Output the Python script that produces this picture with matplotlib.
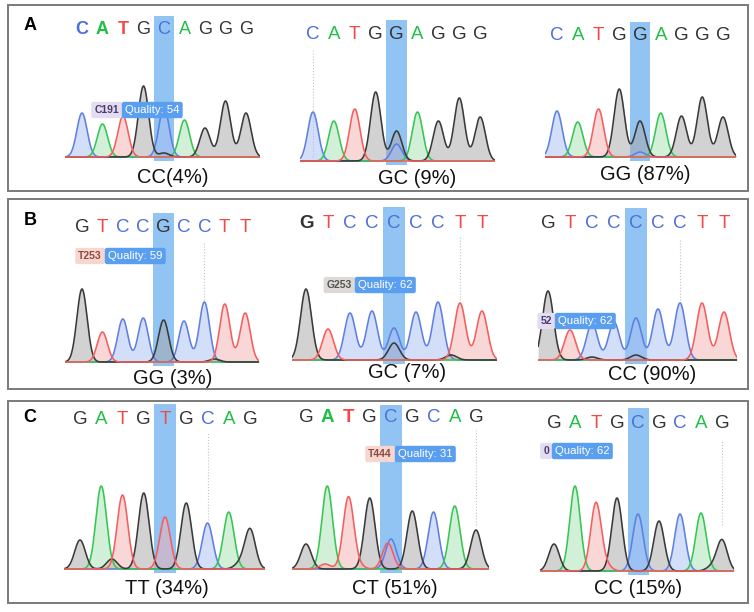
import numpy as np
import matplotlib
matplotlib.use("Agg")
import matplotlib.pyplot as plt
from matplotlib.patches import Rectangle

# ---------------- data ----------------
panel_letters = ["A", "B", "C"]

# called bases per chromatogram (row-major: A1, A2, A3, B1, ...)
bases = [
    "CATGCAGGG", "CATGGAGGG", "CATGGAGGG",
    "GTCCGCCTT", "GTCCCCCTT", "GTCCCCCTT",
    "GATGTGCAG", "GATGCGCAG", "GATGCGCAG",
]
# primary peak heights (signal units), one per base
peak_heights = [
    [44, 33, 41, 71, 50, 37, 29, 56, 44],
    [49, 40, 52, 69, 30, 49, 40, 63, 44],
    [46, 35, 48, 68, 36, 44, 41, 60, 40],
    [73, 30, 43, 44, 42, 41, 60, 58, 49],
    [71, 31, 47, 49, 32, 48, 58, 57, 49],
    [69, 30, 37, 38, 42, 51, 57, 57, 48],
    [29, 83, 74, 76, 52, 66, 46, 57, 40],
    [25, 83, 72, 71, 30, 58, 57, 63, 39],
    [27, 85, 68, 73, 57, 50, 57, 58, 31],
]
# secondary (minor) peaks: (position, base, height)
secondary_peaks = [
    [(4, "G", 4)],
    [(4, "C", 17)],
    [(4, "C", 5)],
    [(6.5, "G", 3)],
    [(4, "G", 17), (6.6, "G", 5)],
    [(4, "G", 5), (2, "G", 3)],
    [(1.5, "G", 10), (7.5, "G", 5)],
    [(3.85, "T", 26), (0.9, "T", 5), (2.5, "T", 3)],
    [(2.5, "T", 5), (7.5, "G", 4)],
]
highlight_index = [4] * 9
genotype_labels = ["CC(4%)", "GC (9%)", "GG (87%)",
                   "GG (3%)", "GC (7%)", "CC (90%)",
                   "TT (34%)", "CT (51%)", "CC (15%)"]
# quality tags: (left text, left style, quality text) or None
quality_tags = [
    ("C191", "lav", "Quality: 54"), None, None,
    ("T253", "pink", "Quality: 59"), ("G253", "grey", "Quality: 62"), ("52", "lav", "Quality: 62"),
    None, ("T444", "pink", "Quality: 31"), ("0", "lav", "Quality: 62"),
]
bold_letters = [[0, 1, 2], [], [], [], [0], [], [], [1, 2], []]

# ---------------- layout (pixels) ----------------
W, H = 754, 612
# x0, spacing, baseline, highlight-top, trace start, trace end, letter y, letter size
chrom_layout = [
    (82, 20.5, 157, 16, -0.85, 8.7, 30, 13),
    (313, 20.9, 161, 20, -0.6, 8.7, 35, 13.5),
    (557, 20.75, 157, 22, -0.6, 8.65, 36, 13.5),
    (82, 20.4, 362, 213, -0.85, 8.7, 227, 13.5),
    (306, 22.0, 360, 207, -0.64, 8.68, 223, 13.5),
    (548, 22.0, 360, 208, -0.45, 8.6, 224, 13.5),
    (80, 21.25, 569, 404, -0.75, 8.7, 419, 13.5),
    (306, 21.25, 569, 405, -0.66, 8.6, 418, 13.5),
    (554, 21.0, 571, 408, -0.67, 8.57, 423, 13.5),
]
label_pos = [(173, 177), (417, 178), (645, 175),
             (173, 378), (407, 373), (652, 375),
             (167, 588), (395, 589), (638, 588)]
tag_pos = [(122, 110), None, None,
           (105, 256), (355, 285), (555, 321),
           None, (395, 454), (552, 451)]
guide_lines = [None, (0, 50, 157), None,
               (6, 242, 300), (7, 235, 300), (6, 240, 303),
               (6, 433, 520), (8, 430, 525), (8, 440, 525)]
panel_boxes = [(8, 5, 748, 191), (8, 199, 748, 389), (8, 401, 748, 603)]
panel_letter_pos = [(30, 25), (30, 220), (30, 417)]

# ---------------- styles ----------------
line_col = {"C": "#5f7fe2", "A": "#35c653", "T": "#f45e5e", "G": "#3a3a3a"}
fill_col = {"C": "#a9bff2", "A": "#a6e3b2", "T": "#f7b0b0", "G": "#a6a6a6"}
text_col = {"C": "#4d6fdc", "A": "#1fc046", "T": "#f34848", "G": "#333333"}
tag_style = {"lav": ("#e3dcf2", "#4a3d6b"), "pink": ("#f8d6d0", "#8a4a40"),
             "grey": ("#ddd9d5", "#555555")}
hl_color = "#7fbaf2"
FONT = ["Liberation Sans", "DejaVu Sans"]
plt.rcParams["font.family"] = FONT

fig = plt.figure(figsize=(W / 100, H / 100), dpi=100)
fig.patch.set_facecolor("white")


def fx(x):
    return x / W


def fy(y):
    return 1 - y / H


# panel boxes and letters
for (x1, y1, x2, y2), letter, (lx, ly) in zip(panel_boxes, panel_letters, panel_letter_pos):
    fig.add_artist(Rectangle((fx(x1), fy(y2)), fx(x2 - x1), (y2 - y1) / H,
                             transform=fig.transFigure, fill=False,
                             edgecolor="#7a7a7a", linewidth=1.4))
    fig.text(fx(lx), fy(ly), letter, ha="center", va="center",
             fontsize=13, fontweight="bold", color="black")

sigma = 0.25
for k in range(9):
    x0, sp, base_y, top_y, xs, xe, let_y, let_size = chrom_layout[k]
    pad = 4
    left = x0 + xs * sp
    right = x0 + xe * sp
    ax = fig.add_axes([fx(left), fy(base_y + pad), fx(right - left),
                       (base_y + pad - top_y) / H])
    ax.set_xlim(xs, xe)
    ax.set_ylim(-pad, base_y - top_y)
    ax.axis("off")
    ax.patch.set_visible(False)

    seq = bases[k]
    hs = peak_heights[k]
    hl = highlight_index[k]
    ax.axvspan(hl - 0.5, hl + 0.5, color=hl_color, alpha=0.85, lw=0, zorder=1)

    xx = np.linspace(xs, xe, 800)
    traces = {b: np.zeros_like(xx) for b in "ACGT"}
    for i, (b, h) in enumerate(zip(seq, hs)):
        traces[b] += h * np.exp(-0.5 * ((xx - i) / sigma) ** 2)
    for (p, b, h) in secondary_peaks[k]:
        traces[b] += h * np.exp(-0.5 * ((xx - p) / sigma) ** 2)
    for b in ["G", "C", "A", "T"]:
        ax.fill_between(xx, 0, traces[b], color=fill_col[b], alpha=0.5,
                        lw=0, zorder=2)
    for b in ["C", "A", "G", "T"]:
        ax.plot(xx, traces[b], color=line_col[b], lw=1.15, zorder=3,
                solid_joinstyle="round")

    for i, b in enumerate(seq):
        ax.text(i, base_y - let_y, b, ha="center", va="center",
                fontsize=let_size, color=text_col[b], zorder=5,
                fontweight="bold" if i in bold_letters[k] else "normal",
                clip_on=False)

    if guide_lines[k] is not None:
        gi, gy1, gy2 = guide_lines[k]
        span = base_y + pad - top_y
        ax.axvline(gi, ymin=(base_y + pad - gy2) / span,
                   ymax=(base_y + pad - gy1) / span,
                   color="#c4c4c4", lw=0.8, ls=":", zorder=1.5)

    lx, ly = label_pos[k]
    fig.text(fx(lx), fy(ly), genotype_labels[k], ha="center", va="center",
             fontsize=14.5, color="#111111")

    if quality_tags[k] is not None:
        ltxt, lsty, qtxt = quality_tags[k]
        sx, sy = tag_pos[k]
        bg, fg = tag_style[lsty]
        fig.text(fx(sx - 3), fy(sy), ltxt, ha="right", va="center",
                 fontsize=7.5, fontweight="bold", color=fg, zorder=6,
                 bbox=dict(boxstyle="round,pad=0.3,rounding_size=0.2",
                           fc=bg, ec="none"))
        fig.text(fx(sx + 3), fy(sy), qtxt, ha="left", va="center",
                 fontsize=8.2, color="white", zorder=6,
                 bbox=dict(boxstyle="round,pad=0.28,rounding_size=0.2",
                           fc="#5a9ef0", ec="none"))

fig.savefig("out.png", dpi=100, facecolor="white")
